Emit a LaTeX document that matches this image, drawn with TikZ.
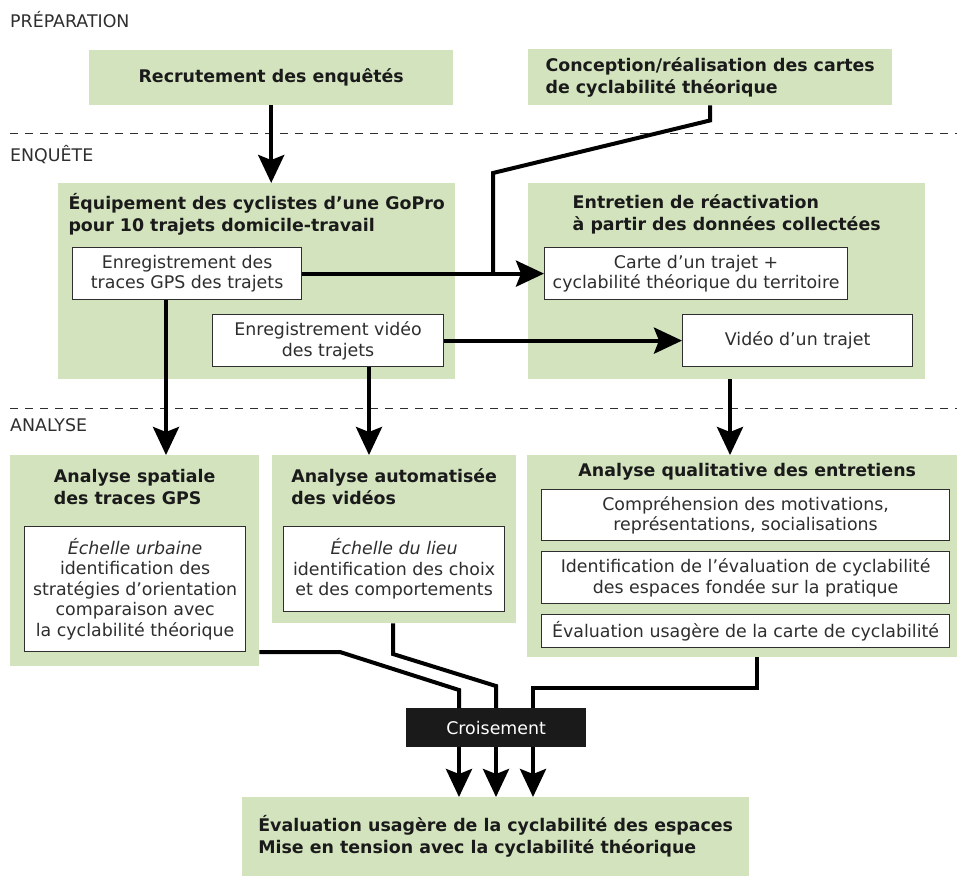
\documentclass[tikz,border=0pt]{standalone}
\usepackage{fontspec}
\setmainfont{DejaVu Sans}
\usepackage{tikz}
\usetikzlibrary{arrows.meta}

\definecolor{vert}{HTML}{D3E3BE}
\definecolor{encre}{HTML}{1A1A1A}
\definecolor{gristexte}{HTML}{2E2E2E}

\tikzset{
	phase/.style={anchor=west, inner sep=0, text=gristexte, font=\fontsize{17.4}{20}\selectfont},
	boite/.style={fill=vert, anchor=north west, inner sep=0, text=encre, align=left, font=\bfseries\fontsize{17.4}{22}\selectfont},
	titre/.style={inner sep=0, text=encre, align=left, font=\bfseries\fontsize{17.4}{22}\selectfont},
	cadre/.style={draw=gristexte, fill=white, line width=1.2pt, anchor=north west, inner sep=0, align=center, text=gristexte, font=\fontsize{17.4}{20.5}\selectfont},
	pointille/.style={draw=gristexte, line width=1pt, dash pattern=on 8pt off 7pt},
	fleche/.style={line width=4pt, -{Stealth[length=28pt, width=26pt, inset=5pt]}},
	trait/.style={line width=4pt},
}

\begin{document}
\begin{tikzpicture}[x=1pt, y=-1pt]
	\useasboundingbox (0,0) rectangle (957,876);

	% phases
	\draw [pointille] (10,133) -- (957,133);
	\draw [pointille] (10,408) -- (957,408);
	\node [phase] (prep) at (10,20) {PRÉPARATION};
	\node [phase] (enq) at (10,155) {ENQUÊTE};
	\node [phase] (ana) at (10,425) {ANALYSE};

	% preparation
	\node [boite, minimum width=364pt, minimum height=55pt] (recrut) at (89,50) {Recrutement des enquêtés};
	\node [boite, minimum width=364pt, minimum height=56pt] (concep) at (528,49) {Conception/réalisation des cartes\\de cyclabilité théorique};

	% enquete
	\node [boite, minimum width=397pt, minimum height=196pt] (equip) at (58,183) {};
	\node [titre] (equip-t) at ([yshift=-31pt]equip.north) {Équipement des cyclistes d’une GoPro\\pour 10 trajets domicile-travail};
	\node [cadre, minimum width=229pt, minimum height=52pt] (gps) at (72,247) {Enregistrement des\\traces GPS des trajets};
	\node [cadre, minimum width=231pt, minimum height=52pt] (video) at (212,314) {Enregistrement vidéo\\des trajets};

	\node [boite, minimum width=397pt, minimum height=196pt] (entretien) at (528,183) {};
	\node [titre] (entretien-t) at ([yshift=-31pt]entretien.north) {Entretien de réactivation\\à partir des données collectées};
	\node [cadre, minimum width=303pt, minimum height=52pt] (carte) at (544,247) {Carte d’un trajet +\\cyclabilité théorique du territoire};
	\node [cadre, minimum width=230pt, minimum height=52pt] (vidtrajet) at (682,314) {Vidéo d’un trajet};

	% analyse
	\node [boite, minimum width=249pt, minimum height=211pt] (spatiale) at (10,455) {};
	\node [titre] (spatiale-t) at ([yshift=-32pt]spatiale.north) {Analyse spatiale\\des traces GPS};
	\node [cadre, minimum width=221pt, minimum height=125pt] (urbain) at (24,526) {\textit{Échelle urbaine}\\identification des\\stratégies d’orientation\\comparaison avec\\la cyclabilité théorique};

	\node [boite, minimum width=244pt, minimum height=168pt] (auto) at (272,455) {};
	\node [titre] (auto-t) at ([yshift=-32pt]auto.north) {Analyse automatisée\\des vidéos};
	\node [cadre, minimum width=221pt, minimum height=85pt] (lieu) at (283,526) {\textit{Échelle du lieu}\\identification des choix\\et des comportements};

	\node [boite, minimum width=430pt, minimum height=202pt] (qualit) at (527,455) {};
	\node [titre] (qualit-t) at ([xshift=5pt, yshift=-17pt]qualit.north) {Analyse qualitative des entretiens};
	\node [cadre, minimum width=408pt, minimum height=51pt] (motiv) at (541,489) {Compréhension des motivations,\\représentations, socialisations};
	\node [cadre, minimum width=408pt, minimum height=52pt] (pratique) at (541,551) {Identification de l’évaluation de cyclabilité\\des espaces fondée sur la pratique};
	\node [cadre, minimum width=408pt, minimum height=33pt] (evalcarte) at (541,614) {Évaluation usagère de la carte de cyclabilité};

	% croisement
	\node [cadre, fill=encre, draw=encre, text=white, minimum width=179pt, minimum height=38pt] (croise) at (406,708) {Croisement};
	\node [boite, minimum width=507pt, minimum height=79pt] (final) at (242,797) {Évaluation usagère de la cyclabilité des espaces\\Mise en tension avec la cyclabilité théorique};

	% fleches
	\coordinate (coude) at (493,173);
	\coordinate (jonction) at (493,273);
	\draw [fleche] (recrut.south) -- (recrut.south |- equip.north);
	\draw [trait] (concep.south) -- ++(0,15) -- (coude) -- (jonction);
	\draw [fleche] (gps.east) -- (carte.west);
	\draw [fleche] (video.east) -- (vidtrajet.west);
	\draw [fleche] (gps.south -| 166,0) -- (spatiale.north -| 166,0);
	\draw [fleche] (video.south -| 369,0) -- (auto.north -| 369,0);
	\draw [fleche] (entretien.south -| 730,0) -- (qualit.north -| 730,0);

	\draw [trait] (spatiale.east |- 0,652) -- (340,652) -- (459,690) -- (croise.north -| 459,0);
	\draw [trait] (auto.south -| 393,0) -- (393,654) -- (496,686) -- (croise.north -| 496,0);
	\draw [trait] (qualit.south -| 757,0) -- (757,688) -- (533,688) -- (croise.north -| 533,0);
	\foreach \x in {459,496,533}
		\draw [fleche] (croise.south -| \x,0) -- (final.north -| \x,0);

\end{tikzpicture}
\end{document}
